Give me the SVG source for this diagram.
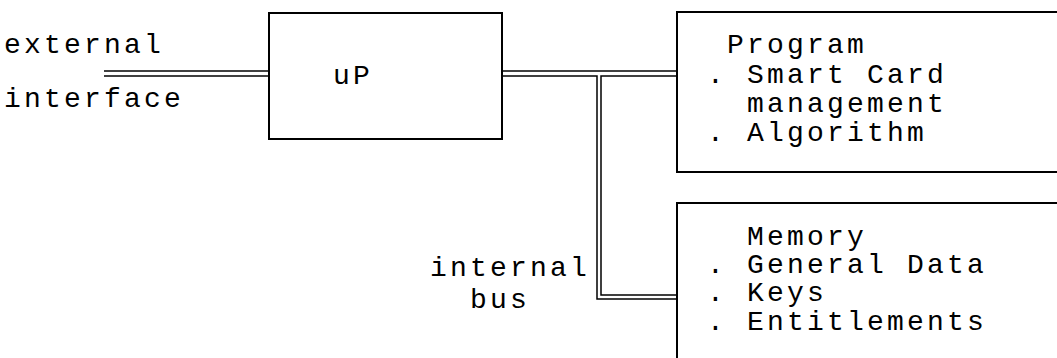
<svg xmlns="http://www.w3.org/2000/svg" width="1057" height="358" viewBox="0 0 1057 358">
  <style>
    text { font-family: "Liberation Mono", "DejaVu Sans Mono", monospace; font-size: 28px; letter-spacing: 3.2px; fill: #000; white-space: pre; }
    .box { fill: #fff; stroke: #000; stroke-width: 2; }
    .bus { fill: none; stroke: #000; stroke-width: 1.5; }
  </style>
  <rect width="1057" height="358" fill="#fff"/>
  <g id="connectors">
    <path class="bus" d="M104,71 H269"/>
    <path class="bus" d="M104,76 H269"/>
    <path class="bus" d="M502,71 H676"/>
    <path class="bus" d="M502,76 H597 V299 H677"/>
    <path class="bus" d="M676,76 H601 V295 H677"/>
  </g>
  <g id="external-interface">
    <text x="4" y="53">external</text>
    <text x="4" y="107">interface</text>
  </g>
  <g id="up">
    <rect class="box" x="269" y="13" width="233" height="126"/>
    <text x="333" y="84">uP</text>
  </g>
  <g id="program">
    <rect class="box" x="677" y="12" width="400" height="160"/>
    <text x="707" y="53"> Program</text>
    <text x="707" y="83">. Smart Card</text>
    <text x="707" y="112">  management</text>
    <text x="707" y="141">. Algorithm</text>
  </g>
  <g id="memory">
    <rect class="box" x="677" y="203" width="400" height="180"/>
    <text x="707" y="245">  Memory</text>
    <text x="707" y="273">. General Data</text>
    <text x="707" y="301">. Keys</text>
    <text x="707" y="330">. Entitlements</text>
  </g>
  <g id="internal-bus">
    <text x="430" y="276">internal</text>
    <text x="430" y="308">  bus</text>
  </g>
</svg>
